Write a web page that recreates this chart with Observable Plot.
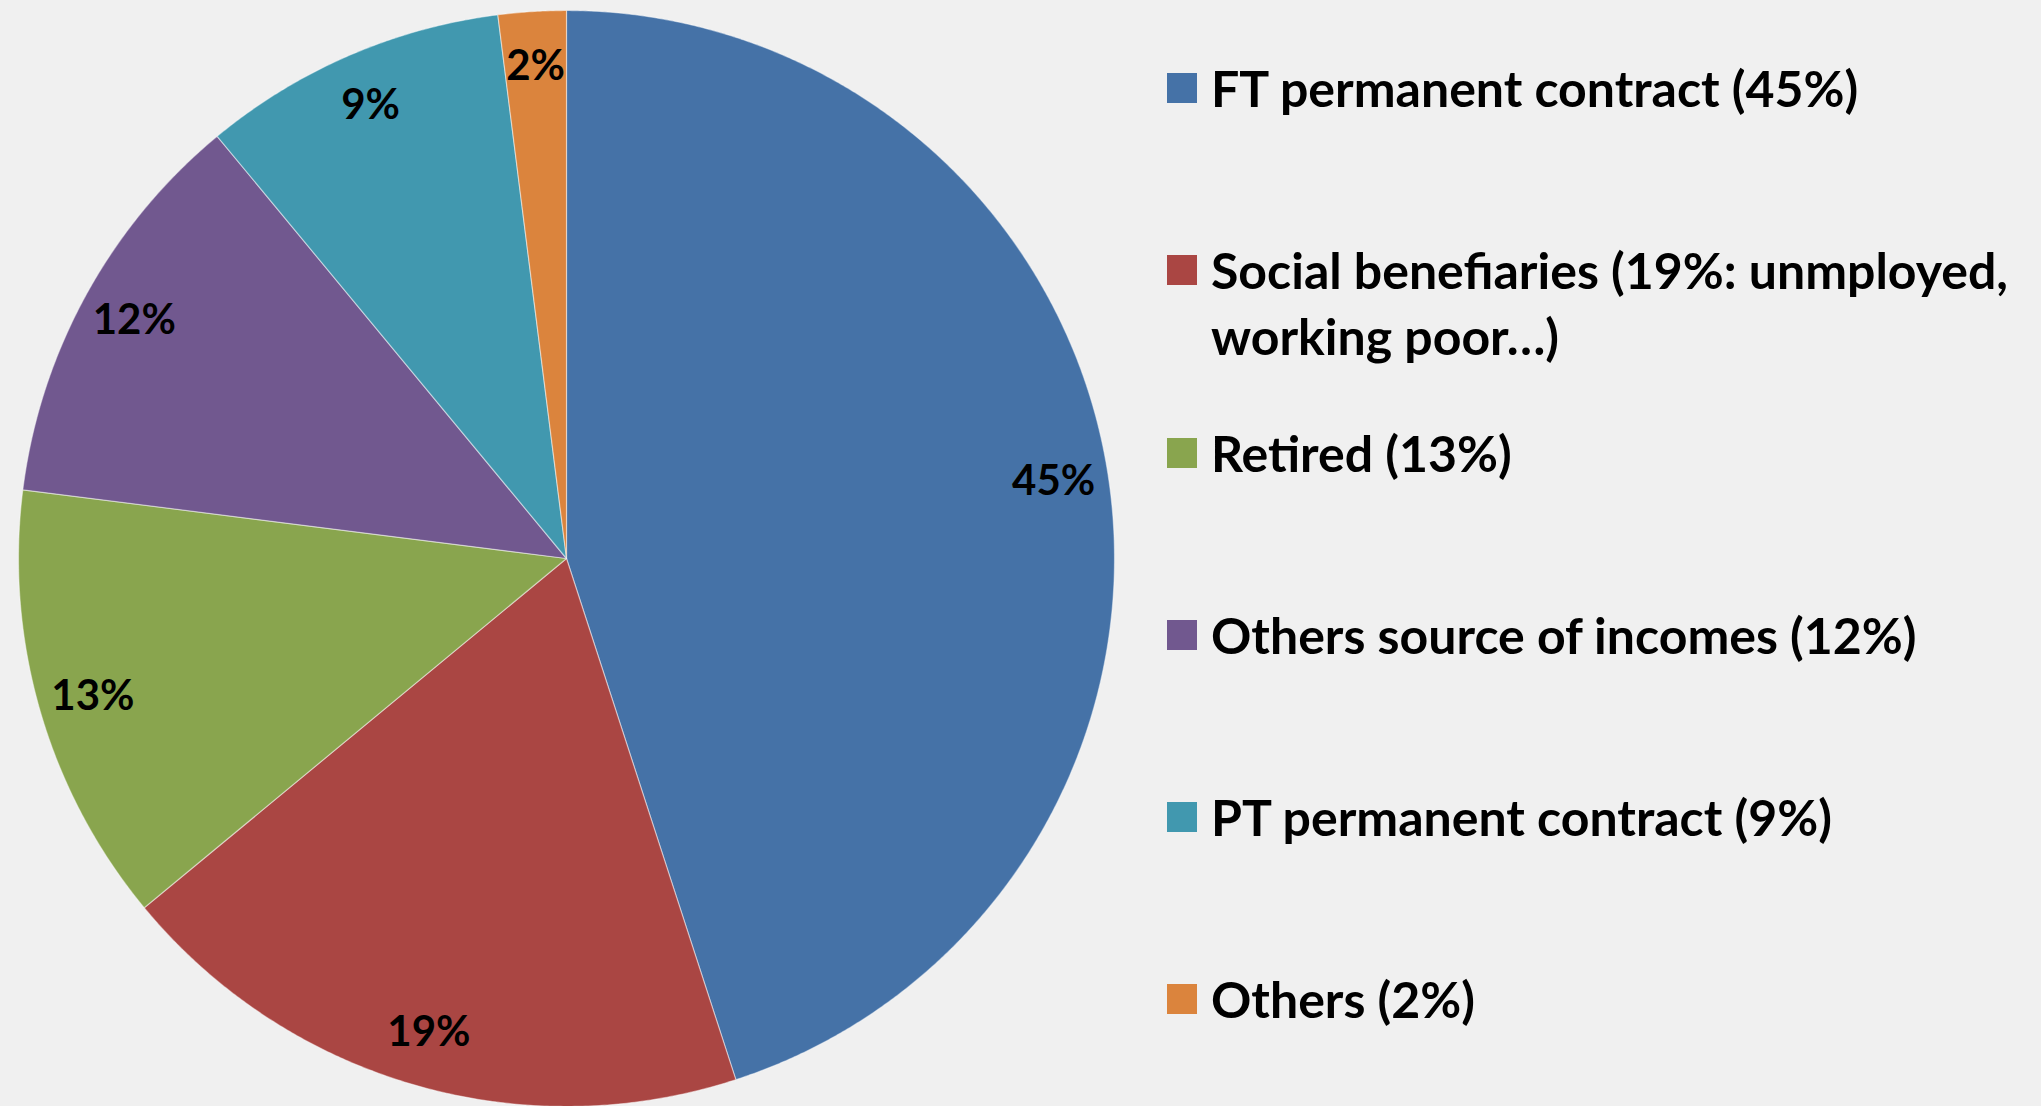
<!DOCTYPE html>
<html>
<head>
<meta charset="utf-8">
<script src="https://cdn.jsdelivr.net/npm/d3@7"></script>
<script src="https://cdn.jsdelivr.net/npm/@observablehq/plot@0.6"></script>
<style>
  html, body { margin: 0; padding: 0; background: #f0f0f0; }
  #wrap { position: relative; width: 2041px; height: 1106px; overflow: hidden; background: #f0f0f0; }
  #chart { position: absolute; left: 0; top: 0; }
  #legend { position: absolute; left: 1167px; top: 55px; font-family: Lato, "Open Sans", sans-serif; font-weight: 700; color: #000; }
  .item { display: flex; align-items: flex-start; height: 182.3px; }
  .sw { width: 30px; height: 30px; margin-top: 18px; flex: none; }
  .lab { margin-left: 14px; font-size: 50px; line-height: 66px; width: 850px; white-space: nowrap; }
</style>
</head>
<body>
<div id="wrap"><div id="chart"></div><div id="legend"></div></div>
<script>
const categories = ["FT permanent contract", "Social benefiaries", "Retired", "Others source of incomes", "PT permanent contract", "Others"];
const shares = [45, 19, 13, 12, 9, 2];
const legendLabels = ["FT permanent contract (45%)", "Social benefiaries (19%: unmployed,\nworking poor…)", "Retired (13%)", "Others source of incomes (12%)", "PT permanent contract (9%)", "Others (2%)"];
const colors = ["#4572A7", "#AA4643", "#89A54E", "#71588F", "#4198AF", "#DB843D"];

const total = d3.sum(shares);
const rows = categories.map((c, i) => ({name: c, value: shares[i]}));
const arcs = d3.pie().sort(null).value(d => d.value)(rows);

// polygon points for each slice (angle clockwise from top, unit radius)
const pts = [];
for (const a of arcs) {
  pts.push({name: a.data.name, x: 0, y: 0});
  const n = Math.max(2, Math.ceil((a.endAngle - a.startAngle) / 0.005));
  for (let k = 0; k <= n; k++) {
    const t = a.startAngle + (a.endAngle - a.startAngle) * k / n;
    pts.push({name: a.data.name, x: Math.sin(t), y: Math.cos(t)});
  }
}
const labels = arcs.map(a => {
  const m = (a.startAngle + a.endAngle) / 2;
  return {name: a.data.name, text: Math.round(a.data.value / total * 100) + "%", x: 0.9 * Math.sin(m), y: 0.9 * Math.cos(m)};
});

const plot = Plot.plot({
  width: 1140,
  height: 1106,
  margin: 0,
  style: {background: "transparent"},
  x: {domain: [-1, 1], range: [18, 1114], axis: null},
  y: {domain: [-1, 1], range: [1106, 10], axis: null},
  color: {domain: categories, range: colors},
  marks: [
    Plot.line(pts, {x: "x", y: "y", z: "name", fill: "name", stroke: "#ffffff", strokeOpacity: 0.45, strokeWidth: 1.2, curve: "linear-closed"}),
    Plot.text(labels, {x: "x", y: "y", text: "text", fill: "#000", fontSize: 42, fontWeight: "bold", fontFamily: "Lato, 'Open Sans', sans-serif"})
  ]
});
document.getElementById("chart").appendChild(plot);

const color = plot.scale("color");
const leg = document.getElementById("legend");
legendLabels.forEach((t, i) => {
  const item = document.createElement("div");
  item.className = "item";
  const sw = document.createElement("div");
  sw.className = "sw";
  sw.style.background = color.apply(categories[i]);
  const lab = document.createElement("div");
  lab.className = "lab";
  t.split("\n").forEach((line, j) => {
    const s = document.createElement("div");
    s.textContent = line;
    lab.appendChild(s);
  });
  item.appendChild(sw);
  item.appendChild(lab);
  leg.appendChild(item);
});
</script>
</body>
</html>
